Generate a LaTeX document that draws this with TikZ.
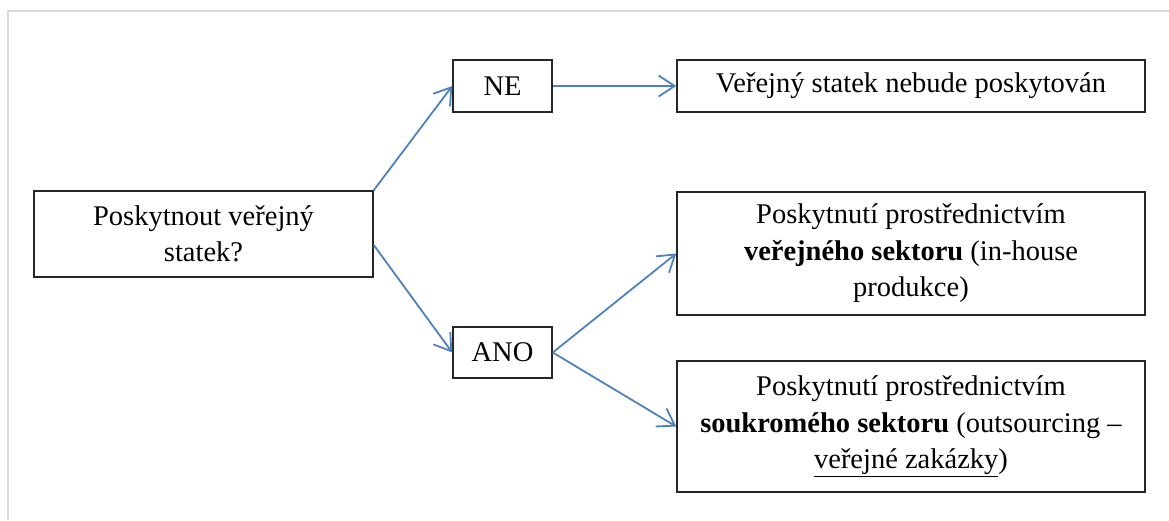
\documentclass[tikz,border=0pt]{standalone}
\usepackage{fontspec}
\setmainfont{Liberation Serif}
\usetikzlibrary{arrows.meta}
\definecolor{linkblue}{HTML}{4F81BD}
\definecolor{framegray}{HTML}{D9D9D9}
\tikzset{
  box/.style={draw=black!85, line width=1.5pt, fill=white, inner sep=0pt,
    align=center, font=\fontsize{28.5}{36.5}\selectfont},
  link/.style={draw=linkblue, line width=1.8pt,
    -{Straight Barb[length=16pt, width=21pt, line width=1.8pt]}},
}
\begin{document}
\begin{tikzpicture}[x=1pt, y=-1pt]
  \useasboundingbox (0,0) rectangle (1169,520);
  \fill[white] (0,0) rectangle (1169,520);
  % page frame (top and left edges)
  \draw[framegray, line width=2pt] (7.5,520) -- (7.5,11) -- (1169,11);

  % decision and outcomes
  \node[box, minimum width=339pt, minimum height=86pt] (q) at (203.5,234)
    {Poskytnout veřejný\\statek?};
  \node[box, minimum width=99pt, minimum height=52pt] (ne) at (502.5,86) {NE};
  \node[box, minimum width=99pt, minimum height=51pt] (ano) at (502.5,352.5) {ANO};
  \node[box, minimum width=468pt, minimum height=52pt] (none) at (911,86)
    {Veřejný statek nebude poskytován};
  \node[box, minimum width=468pt, minimum height=123pt] (pub) at (911,253.5)
    {Poskytnutí prostřednictvím\\\textbf{veřejného sektoru} (in-house\\produkce)};
  \node[box, minimum width=468pt, minimum height=131pt] (priv) at (911,426.5)
    {Poskytnutí prostřednictvím\\\textbf{soukromého sektoru} (outsourcing –\\\underline{veřejné zakázky})};

  % connectors
  \draw[link] (q.north east) -- (ne.west);
  \draw[link] ([yshift=-11pt]q.east) -- (ano.west);
  \draw[link] (ne.east) -- (none.west);
  \draw[link] (ano.east) -- (pub.west);
  \draw[link] (ano.east) -- (priv.west);
\end{tikzpicture}
\end{document}
